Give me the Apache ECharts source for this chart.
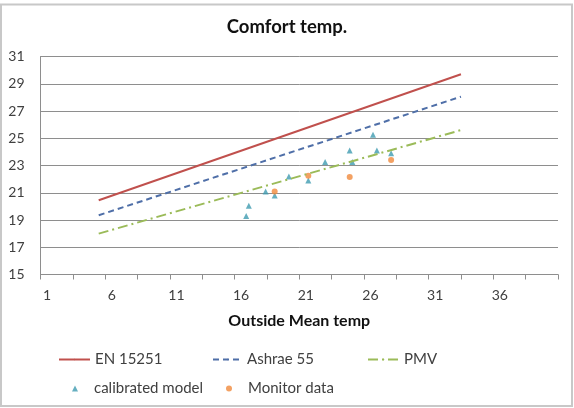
<!DOCTYPE html>
<html>
<head>
<meta charset="utf-8">
<script src="https://cdn.jsdelivr.net/npm/echarts@6/dist/echarts.min.js"></script>
<style>
  html, body { margin: 0; padding: 0; background: #fff; }
  #chart { width: 574px; height: 408px; }
</style>
</head>
<body>
<div id="chart"></div>
<script>
// 数据：舒适温度线（端点）与散点
var en15251 = [[5, 20.45], [33, 29.7]];
var ashrae55 = [[5, 19.35], [33, 28.05]];
var pmv = [[5, 18.0], [33, 25.6]];

var calibratedX = [16.4, 16.6, 17.9, 18.6, 19.7, 21.2, 22.5, 24.4, 24.6, 26.2, 26.5, 27.6];
var calibratedY = [19.3, 20.05, 21.1, 20.8, 22.2, 21.9, 23.25, 24.1, 23.25, 25.25, 24.1, 23.9];

var monitorX = [18.6, 21.2, 24.4, 27.6];
var monitorY = [21.1, 22.25, 22.15, 23.4];

var xTickLabels = ['1', '6', '11', '16', '21', '26', '31', '36'];
var yTickLabels = ['15', '17', '19', '21', '23', '25', '27', '29', '31'];

function zip(xs, ys) {
  return xs.map(function (x, i) { return [x, ys[i]]; });
}

var myChart = echarts.init(document.getElementById('chart'));
var font = 'Lato, "Open Sans", sans-serif';
var textColor = '#404040';

// 线条图例：itemHeight 很小，让默认的圆点被线盖住
function lineLegend(name, left, width) {
  return {
    data: [name], left: left, top: 352, padding: 0,
    itemWidth: width, itemHeight: 2,
    textStyle: { fontFamily: font, fontSize: 15, color: textColor }
  };
}

myChart.setOption({
  backgroundColor: '#fff',
  animation: false,
  textStyle: { fontFamily: font },
  title: {
    text: 'Comfort temp.',
    left: 'center',
    top: 18,
    padding: 0,
    textStyle: { fontFamily: font, fontSize: 18.5, fontWeight: 'bold', color: '#111' }
  },
  graphic: [{
    type: 'rect',
    shape: { x: 1, y: 4.5, width: 571, height: 401.5 },
    style: { fill: 'none', stroke: '#c8c8c8', lineWidth: 2 },
    silent: true
  }],
  grid: {
    left: 40.5,
    right: 16,
    top: 56.5,
    bottom: 133.5
  },
  xAxis: {
    type: 'value',
    min: 0.5,
    max: 40.5,
    interval: 2.5,
    name: 'Outside Mean temp',
    nameLocation: 'middle',
    nameGap: 38,
    nameTextStyle: { fontFamily: font, fontSize: 16, fontWeight: 'bold', color: '#111' },
    axisLine: { lineStyle: { color: '#8e8e8e', width: 1 } },
    axisTick: { show: true, length: 5, lineStyle: { color: '#8e8e8e' } },
    splitLine: { show: false },
    axisLabel: {
      margin: 14,
      fontSize: 14,
      color: textColor,
      padding: [0, 0, 0, 13],
      formatter: function (v) {
        var k = Math.round((v - 0.5) / 2.5);
        if (k % 2 !== 0) return '';
        return xTickLabels[k / 2] || '';
      }
    }
  },
  yAxis: {
    type: 'value',
    min: 15,
    max: 31,
    interval: 2,
    axisLine: { show: true, lineStyle: { color: '#8e8e8e', width: 1 } },
    axisTick: { show: false },
    splitLine: { show: true, lineStyle: { color: '#8e8e8e', width: 1 } },
    axisLabel: {
      margin: 16,
      fontSize: 14,
      color: textColor,
      formatter: function (v) {
        return yTickLabels[Math.round((v - 15) / 2)] || '';
      }
    }
  },
  legend: [
    lineLegend('EN 15251', 58, 31),
    lineLegend('Ashrae 55', 212, 29),
    lineLegend('PMV', 367, 31),
    { data: ['calibrated model'], left: 72, top: 381, padding: 0, itemWidth: 6, itemHeight: 6,
      textStyle: { fontFamily: font, fontSize: 15, color: textColor, padding: [0, 0, 0, 11] } },
    { data: ['Monitor data'], left: 226, top: 381, padding: 0, itemWidth: 6, itemHeight: 6,
      textStyle: { fontFamily: font, fontSize: 15, color: textColor, padding: [0, 0, 0, 11] } }
  ],
  series: [
    {
      name: 'EN 15251',
      type: 'line',
      symbol: 'none',
      data: en15251,
      itemStyle: { color: '#c0504d' },
      lineStyle: { color: '#c0504d', width: 2 }
    },
    {
      name: 'Ashrae 55',
      type: 'line',
      symbol: 'none',
      data: ashrae55,
      itemStyle: { color: '#4f6fa8' },
      lineStyle: { color: '#4f6fa8', width: 2, type: [6, 4] }
    },
    {
      name: 'PMV',
      type: 'line',
      symbol: 'none',
      data: pmv,
      itemStyle: { color: '#9bbb59' },
      lineStyle: { color: '#9bbb59', width: 2, type: [10, 4, 2, 4] }
    },
    {
      name: 'calibrated model',
      type: 'scatter',
      symbol: 'triangle',
      symbolSize: 6,
      data: zip(calibratedX, calibratedY),
      itemStyle: { color: '#3f9bb0' }
    },
    {
      name: 'Monitor data',
      type: 'scatter',
      symbol: 'circle',
      symbolSize: 6,
      data: zip(monitorX, monitorY),
      itemStyle: { color: '#f08a3c' }
    }
  ]
});
</script>
</body>
</html>
